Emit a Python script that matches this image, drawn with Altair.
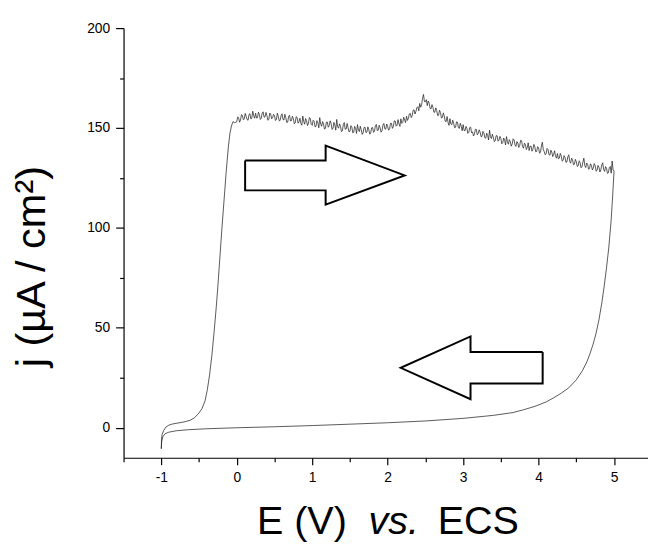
import altair as alt
import pandas as pd

# ---------------- data ----------------
# forward scan: onset region (E in V, j in uA/cm2)
fwd_rise_E = [-1.0, -0.997, -0.99, -0.97, -0.94, -0.9, -0.85, -0.79, -0.7, -0.62,
              -0.56, -0.5, -0.46, -0.42, -0.39, -0.36, -0.33, -0.3, -0.27, -0.25,
              -0.22, -0.2, -0.17, -0.14, -0.11, -0.09, -0.07, -0.05, -0.025]
fwd_rise_j = [-10.5, -6.0, -3.5, -1.5, 0.3, 1.3, 1.9, 2.3, 2.9, 3.7,
              5.0, 7.4, 9.6, 13.5, 19.0, 26.5, 36.0, 48.0, 61.0, 71.0,
              87.0, 98.0, 113.0, 128.0, 141.0, 147.5, 151.0, 153.2, 152.6]

# forward scan: noisy plateau, one reading every 0.0125 V from 0.0 V to 5.0 V
# (each row covers 0.25 V)
plateau_start = 0.0
plateau_step = 0.0125
plateau_j = [
    153.2, 155.6, 155.1, 152.9, 154.0, 156.7, 156.3, 154.1, 154.6, 157.3, 155.8, 154.2, 153.9, 156.8, 157.2, 154.5, 155.0, 158.4, 156.1, 154.9,
    157.4, 155.0, 155.2, 157.9, 156.8, 154.3, 154.9, 157.6, 158.1, 155.4, 155.6, 157.8, 156.2, 153.9, 154.3, 157.5, 157.0, 154.6, 155.1, 156.9,
    156.3, 153.8, 154.2, 157.4, 155.9, 153.6, 153.8, 156.2, 157.1, 154.3, 154.0, 156.9, 155.2, 152.8, 152.9, 155.8, 156.4, 153.5, 153.7, 155.9,
    154.8, 152.1, 152.6, 155.7, 155.3, 152.4, 153.1, 154.9, 152.2, 151.4, 156.0, 153.3, 151.9, 154.8, 153.6, 151.2, 152.4, 155.3, 154.7, 151.8,
    151.3, 153.9, 153.4, 150.6, 150.8, 153.7, 152.6, 150.1, 155.2, 152.0, 150.9, 153.2, 152.1, 149.5, 149.8, 152.9, 153.0, 150.4, 151.2, 153.6,
    152.4, 149.3, 149.7, 152.8, 151.6, 148.9, 154.3, 150.6, 149.9, 152.1, 150.8, 148.2, 148.6, 151.9, 152.7, 149.4, 149.5, 152.3, 150.2, 148.1,
    148.3, 151.2, 150.6, 147.6, 147.9, 150.8, 149.8, 147.3, 151.7, 149.0, 148.2, 150.9, 149.1, 146.8, 147.6, 150.3, 150.4, 147.7, 148.0, 150.6,
    149.2, 146.9, 147.5, 150.1, 150.3, 147.8, 148.4, 151.2, 151.8, 148.7, 148.9, 151.4, 150.1, 147.9, 148.6, 151.5, 152.3, 149.6, 149.4, 152.0,
    150.8, 148.9, 149.6, 152.3, 152.4, 149.8, 150.7, 153.6, 153.5, 150.9, 151.4, 154.2, 152.1, 150.8, 154.6, 152.3, 152.8, 155.4, 154.0, 152.7,
    155.9, 153.8, 154.8, 157.1, 157.3, 155.2, 156.2, 158.9, 159.1, 157.0, 158.4, 160.2, 160.7, 158.6, 162.3, 160.4, 161.6, 164.9, 166.8, 163.2,
    163.1, 164.2, 161.2, 163.5, 162.4, 159.8, 159.6, 161.7, 160.3, 157.9, 157.9, 160.1, 158.8, 156.2, 156.4, 158.9, 157.7, 155.0, 155.3, 157.6,
    156.1, 153.4, 153.2, 155.8, 152.8, 151.3, 154.7, 152.0, 151.6, 153.9, 152.3, 150.1, 150.4, 153.1, 152.9, 150.2, 149.8, 152.4, 150.9, 148.6,
    151.7, 148.9, 148.6, 150.8, 149.9, 147.3, 147.8, 150.2, 150.4, 147.6, 148.1, 146.0, 146.9, 149.4, 149.3, 146.6, 147.2, 149.1, 148.0, 145.7,
    145.8, 148.3, 147.6, 145.1, 144.9, 147.4, 146.3, 144.0, 148.9, 145.6, 144.7, 146.9, 145.4, 143.2, 143.6, 146.2, 146.1, 143.4, 143.9, 145.8,
    144.8, 142.1, 142.6, 145.0, 143.9, 141.5, 145.7, 143.1, 141.9, 144.2, 143.2, 140.9, 142.0, 144.6, 144.1, 141.6, 140.8, 143.2, 142.5, 140.3,
    141.3, 143.9, 143.6, 140.7, 139.9, 142.4, 141.8, 139.2, 140.2, 142.6, 138.7, 140.9, 141.0, 138.4, 139.4, 141.8, 140.6, 138.1, 138.3, 140.7,
    140.1, 137.4, 137.8, 141.0, 142.9, 139.1, 138.2, 136.6, 137.1, 139.8, 139.3, 136.7, 136.4, 138.9, 138.0, 135.7, 136.9, 138.6, 135.8, 134.9,
    137.2, 134.6, 134.9, 137.3, 136.1, 133.4, 133.8, 136.2, 135.4, 132.8, 133.0, 135.6, 136.6, 133.3, 132.4, 134.9, 134.1, 131.6, 131.9, 134.3,
    133.2, 130.8, 131.1, 133.6, 132.7, 130.1, 130.6, 133.0, 134.9, 131.2, 130.2, 132.5, 131.8, 129.4, 129.7, 132.1, 131.3, 129.0, 130.0, 132.2,
    131.2, 128.4, 128.8, 131.3, 130.4, 128.0, 129.1, 131.6, 132.6, 129.2, 128.3, 130.7, 129.9, 127.3, 127.6, 130.2, 130.8, 127.4, 133.5, 128.9,
    128.6,
]

# reverse scan
rev_E = [4.98, 4.96, 4.93, 4.9, 4.87, 4.84, 4.8, 4.76, 4.72, 4.68,
         4.64, 4.58, 4.5, 4.4, 4.3, 4.2, 4.1, 3.95, 3.8, 3.66,
         3.4, 3.0, 2.5, 2.0, 1.5, 1.0, 0.5, 0.0, -0.4, -0.65,
         -0.8, -0.9, -0.95, -0.98, -0.995, -1.0]
rev_j = [115.0, 103.0, 90.0, 80.0, 71.0, 63.0, 54.0, 47.0, 41.5, 37.0,
         33.0, 28.5, 24.0, 20.0, 17.3, 15.0, 12.9, 10.7, 9.0, 7.6,
         6.2, 4.7, 3.4, 2.5, 1.8, 1.1, 0.5, 0.0, -0.5, -1.0,
         -1.5, -2.2, -3.0, -4.5, -7.0, -10.5]

# block arrows (outline polygons, in data units)
arrow_fwd_E = [0.111, 1.178, 1.178, 2.225, 1.178, 1.178, 0.111, 0.111]
arrow_fwd_j = [133.8, 133.8, 141.2, 126.3, 111.7, 118.8, 118.8, 133.8]
arrow_rev_E = [4.054, 3.098, 3.098, 2.173, 3.098, 3.098, 4.054, 4.054]
arrow_rev_j = [37.9, 37.9, 45.7, 30.0, 14.3, 22.1, 22.1, 37.9]

# axis ticks
x_ticks = [-1.5, -1.0, -0.5, 0.0, 0.5, 1.0, 1.5, 2.0, 2.5, 3.0, 3.5, 4.0, 4.5, 5.0]
y_ticks = [0, 25, 50, 75, 100, 125, 150, 175, 200]
x_domain = [-1.5, 5.45]
y_domain = [-15, 200]

title_parts = ["E (V)", "vs.", "ECS"]
y_title = "j (µA / cm²)"

# ---------------- tables ----------------
plateau_E = [round(plateau_start + i * plateau_step, 5) for i in range(len(plateau_j))]
E_all = fwd_rise_E + plateau_E + rev_E
j_all = fwd_rise_j + plateau_j + rev_j
curve_df = pd.DataFrame({"E": E_all, "j": j_all, "i": list(range(len(E_all)))})

arrow_df = pd.DataFrame({
    "E": arrow_fwd_E + arrow_rev_E,
    "j": arrow_fwd_j + arrow_rev_j,
    "arrow": ["fwd"] * len(arrow_fwd_E) + ["rev"] * len(arrow_rev_E),
    "i": list(range(len(arrow_fwd_E))) + list(range(len(arrow_rev_E))),
})

FONT = "Liberation Sans"

x_scale = alt.Scale(domain=x_domain, nice=False, zero=False)
y_scale = alt.Scale(domain=y_domain, nice=False, zero=False)

x_axis = alt.Axis(
    values=x_ticks,
    labelExpr="datum.value % 1 === 0 ? '' + datum.value : ''",
    title=None, grid=False,
    domainColor="black", domainWidth=1.2,
    tickColor="black", tickWidth=1.2,
    tickSize={"condition": {"test": "datum.value % 1 !== 0", "value": 4}, "value": 7},
    labelPadding=6, labelFont=FONT, labelFontSize=14, labelColor="black",
    labelFlush=False, labelOverlap=False,
)
y_axis = alt.Axis(
    values=y_ticks,
    labelExpr="datum.value % 50 === 0 ? '' + datum.value : ''",
    title=y_title, grid=False,
    domainColor="black", domainWidth=1.2,
    tickColor="black", tickWidth=1.2,
    tickSize={"condition": {"test": "datum.value % 50 !== 0", "value": 4}, "value": 8},
    labelPadding=6, labelFont=FONT, labelFontSize=14, labelColor="black",
    labelFlush=False, labelOverlap=False,
    titleFont=FONT, titleFontSize=42, titleFontWeight="normal", titleColor="black",
    titleAngle=270, titleAlign="center", titleBaseline="alphabetic",
    titleX=-80, titleY=241,
)

curve = alt.Chart(curve_df).mark_line(color="#222222", strokeWidth=0.75).encode(
    x=alt.X("E:Q", scale=x_scale, axis=x_axis),
    y=alt.Y("j:Q", scale=y_scale, axis=y_axis),
    order="i:Q",
)

arrows = alt.Chart(arrow_df).mark_line(color="black", strokeWidth=2, strokeJoin="miter").encode(
    x=alt.X("E:Q", scale=x_scale),
    y=alt.Y("j:Q", scale=y_scale),
    detail="arrow:N",
    order="i:Q",
)

t1 = alt.Chart(pd.DataFrame({"t": [title_parts[0]]})).mark_text(
    font=FONT, fontSize=40, align="left", baseline="alphabetic", color="black"
).encode(x=alt.value(135), y=alt.value(512), text="t:N")
t2 = alt.Chart(pd.DataFrame({"t": [title_parts[1]]})).mark_text(
    font=FONT, fontSize=40, fontStyle="italic", align="left", baseline="alphabetic", color="black"
).encode(x=alt.value(248), y=alt.value(512), text="t:N")
t3 = alt.Chart(pd.DataFrame({"t": [title_parts[2]]})).mark_text(
    font=FONT, fontSize=40, align="left", baseline="alphabetic", color="black"
).encode(x=alt.value(318), y=alt.value(512), text="t:N")

chart = alt.layer(curve, arrows, t1, t2, t3).properties(
    width=531, height=435,
    autosize=alt.AutoSizeParams(type="none"),
    padding={"left": 117, "top": 17, "right": 0, "bottom": 85},
    background="white",
).configure_view(stroke=None)

chart.save("out.html", embed_options={"renderer": "svg", "actions": False})
